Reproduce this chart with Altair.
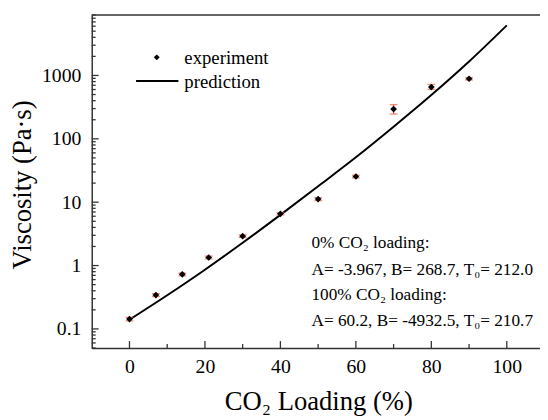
import altair as alt
import pandas as pd

# ---- data ----
loading = [0, 7, 14, 21, 30, 40, 50, 60, 70, 80, 90]
viscosity = [0.143, 0.342, 0.726, 1.34, 2.91, 6.56, 11.2, 25.4, 295, 656, 887]
err_lo = [0.134, 0.325, 0.69, 1.27, 2.77, 6.3, 10.6, 24.2, 246, 603, 850]
err_hi = [0.152, 0.36, 0.76, 1.41, 3.05, 6.85, 11.8, 26.6, 347, 721, 925]

pred_x = [0, 10, 20, 30, 40, 50, 60, 70, 80, 90, 100]
pred_y = [0.14, 0.34, 0.86, 2.29, 6.3, 17.8, 51, 155, 490, 1660, 6170]

x_major = [0, 20, 40, 60, 80, 100]
x_minor = [10, 30, 50, 70, 90]
y_major = [0.1, 1, 10, 100, 1000]
y_minor = [m * d for d in [0.01, 0.1, 1, 10, 100, 1000] for m in range(2, 10)
           if 0.05 <= m * d <= 9000]

legend_labels = ["experiment", "prediction"]
note_lines = [
    "0% CO\u2082 loading:",
    "A= -3.967, B= 268.7, T\u2080= 212.0",
    "100% CO\u2082 loading:",
    "A= 60.2, B= -4932.5, T\u2080= 210.7",
]

FONT = "Liberation Serif, Times New Roman, Times, serif"
W, H = 455, 338
RED = "#ee5a44"
FRAME = "#333333"

pts = pd.DataFrame({"x": loading, "y": viscosity, "lo": err_lo, "hi": err_hi})
pred = pd.DataFrame({"x": pred_x, "y": pred_y})

xs = alt.Scale(domain=[-10, 108.8], nice=False, zero=False)
ys = alt.Scale(type="log", domain=[0.05, 9000], nice=False)

x_axis = alt.Axis(
    title="CO\u2082 Loading (%)", values=x_major, format="d", ticks=False, tickSize=0,
    grid=False, labelPadding=9, labelFont=FONT, labelFontSize=20, labelColor="black",
    titleFont=FONT, titleFontSize=27, titleFontWeight="normal", titleColor="black",
    titleBaseline="alphabetic", titleY=62, titleX=230,
    domainColor=FRAME, domainWidth=1.5,
)
y_axis = alt.Axis(
    title="Viscosity (Pa\u00b7s)", values=y_major, format="~g", ticks=False, tickSize=0,
    grid=False, labelPadding=11, labelFont=FONT, labelFontSize=20, labelColor="black",
    titleFont=FONT, titleFontSize=27, titleFontWeight="normal", titleColor="black",
    titleBaseline="alphabetic", titleX=-62, titleY=172, titleAngle=270,
    domainColor=FRAME, domainWidth=1.5,
)

line = alt.Chart(pred).mark_line(color="black", strokeWidth=2, interpolate="monotone").encode(
    x=alt.X("x:Q", scale=xs, axis=x_axis),
    y=alt.Y("y:Q", scale=ys, axis=y_axis),
)

bars = alt.Chart(pts).mark_rule(color=RED, strokeWidth=1.3).encode(
    x=alt.X("x:Q", scale=xs), y=alt.Y("lo:Q", scale=ys), y2="hi:Q"
)
cap_lo = alt.Chart(pts).mark_tick(color=RED, orient="horizontal", size=8, thickness=1.3).encode(
    x=alt.X("x:Q", scale=xs), y=alt.Y("lo:Q", scale=ys)
)
cap_hi = alt.Chart(pts).mark_tick(color=RED, orient="horizontal", size=8, thickness=1.3).encode(
    x=alt.X("x:Q", scale=xs), y=alt.Y("hi:Q", scale=ys)
)
points = alt.Chart(pts).mark_point(shape="diamond", filled=True, color="black", size=46, opacity=1).encode(
    x=alt.X("x:Q", scale=xs), y=alt.Y("y:Q", scale=ys)
)

# inward ticks
xt_major = alt.Chart(pd.DataFrame({"v": x_major})).mark_rule(color=FRAME, strokeWidth=1.3).encode(
    x=alt.X("v:Q", scale=xs), y=alt.value(H), y2=alt.value(H - 7)
)
xt_minor = alt.Chart(pd.DataFrame({"v": x_minor})).mark_rule(color=FRAME, strokeWidth=1.3).encode(
    x=alt.X("v:Q", scale=xs), y=alt.value(H), y2=alt.value(H - 4)
)
yt_major = alt.Chart(pd.DataFrame({"v": y_major})).mark_rule(color=FRAME, strokeWidth=1.3).encode(
    y=alt.Y("v:Q", scale=ys), x=alt.value(0), x2=alt.value(7)
)
yt_minor = alt.Chart(pd.DataFrame({"v": y_minor})).mark_rule(color=FRAME, strokeWidth=1.3).encode(
    y=alt.Y("v:Q", scale=ys), x=alt.value(0), x2=alt.value(4)
)
top_border = alt.Chart(alt.Data(values=[{}])).mark_rule(color=FRAME, strokeWidth=1.5).encode(
    x=alt.value(0), x2=alt.value(W), y=alt.value(0)
)

one = alt.Data(values=[{}])
leg_pt = alt.Chart(one).mark_point(shape="diamond", filled=True, color="black", size=36, opacity=1).encode(
    x=alt.value(66), y=alt.value(43)
)
leg_line = alt.Chart(one).mark_rule(color="black", strokeWidth=2).encode(
    x=alt.value(45), x2=alt.value(88), y=alt.value(67)
)
leg_t1 = alt.Chart(one).mark_text(text=legend_labels[0], font=FONT, fontSize=19, align="left",
                                  baseline="alphabetic", color="black").encode(
    x=alt.value(94), y=alt.value(50))
leg_t2 = alt.Chart(one).mark_text(text=legend_labels[1], font=FONT, fontSize=19, align="left",
                                  baseline="alphabetic", color="black").encode(
    x=alt.value(94), y=alt.value(74))

note_y = [237, 264, 289, 316]
notes = [
    alt.Chart(one).mark_text(text=t, font=FONT, fontSize=17.5, align="left",
                             baseline="alphabetic", color="black").encode(
        x=alt.value(223), y=alt.value(yy))
    for t, yy in zip(note_lines, note_y)
]

chart = alt.layer(
    line, bars, cap_lo, cap_hi, points,
    xt_major, xt_minor, yt_major, yt_minor, top_border,
    leg_pt, leg_line, leg_t1, leg_t2, *notes,
).properties(
    width=W, height=H,
    autosize=alt.AutoSizeParams(type="none"),
    padding={"left": 85, "top": 4, "right": 0, "bottom": 70},
    background="white",
).configure_view(stroke=None)

chart.save("out.html", embed_options={"renderer": "svg", "actions": False})
